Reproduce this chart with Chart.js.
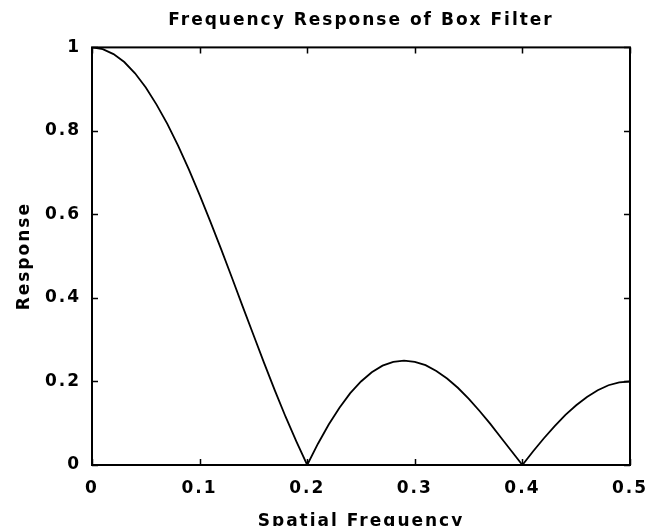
<!doctype html>
<html>
<head>
  <meta charset="utf-8" />
  <title>Frequency Response of Box Filter</title>
  <script src="https://cdn.jsdelivr.net/npm/chart.js"></script>
  <style>
    html, body { margin: 0; padding: 0; background: #fff; }
    #wrap { width: 650px; height: 526px; }
  </style>
</head>
<body>
  <div id="wrap"><canvas id="chart" width="650" height="526"></canvas></div>
  <script>
    // values, step 0.01 in spatial frequency
    const frequency = [
      0.00, 0.01, 0.02, 0.03, 0.04, 0.05, 0.06, 0.07, 0.08, 0.09,
      0.10, 0.11, 0.12, 0.13, 0.14, 0.15, 0.16, 0.17, 0.18, 0.19,
      0.20, 0.21, 0.22, 0.23, 0.24, 0.25, 0.26, 0.27, 0.28, 0.29,
      0.30, 0.31, 0.32, 0.33, 0.34, 0.35, 0.36, 0.37, 0.38, 0.39,
      0.40, 0.41, 0.42, 0.43, 0.44, 0.45, 0.46, 0.47, 0.48, 0.49, 0.50,
    ];
    const response = [
      1.000, 0.996, 0.984, 0.965, 0.938, 0.904, 0.863, 0.817, 0.765, 0.708,
      0.647, 0.583, 0.517, 0.449, 0.380, 0.312, 0.244, 0.178, 0.115, 0.056,
      0.000, 0.051, 0.097, 0.137, 0.172, 0.200, 0.222, 0.238, 0.247, 0.250,
      0.247, 0.239, 0.225, 0.207, 0.185, 0.159, 0.130, 0.099, 0.066, 0.033,
      0.000, 0.033, 0.064, 0.093, 0.120, 0.143, 0.163, 0.179, 0.191, 0.198, 0.200,
    ];
    const xTicks = [0, 0.1, 0.2, 0.3, 0.4, 0.5];
    const yTicks = [0, 0.2, 0.4, 0.6, 0.8, 1];

    const textFont = { family: '"DejaVu Sans", Arial, sans-serif', size: 17, weight: 'bold' };

    // wide, spaced-out lettering like the original bitmap font
    const spacedText = {
      id: 'spacedText',
      beforeDraw(chart) {
        chart.ctx.letterSpacing = '2px';
      },
    };

    // box frame with inward tick marks on all four sides
    const boxFrame = {
      id: 'boxFrame',
      afterDraw(chart) {
        const { ctx, chartArea: a, scales } = chart;
        const len = 6;
        ctx.save();
        ctx.strokeStyle = '#000';
        ctx.lineWidth = 2;
        ctx.strokeRect(a.left, a.top, a.right - a.left, a.bottom - a.top);
        ctx.lineWidth = 1.5;
        ctx.beginPath();
        xTicks.forEach((v) => {
          const x = Math.round(scales.x.getPixelForValue(v)) + 0.5;
          ctx.moveTo(x, a.bottom); ctx.lineTo(x, a.bottom - len);
          ctx.moveTo(x, a.top); ctx.lineTo(x, a.top + len);
        });
        yTicks.forEach((v) => {
          const y = Math.round(scales.y.getPixelForValue(v)) + 0.5;
          ctx.moveTo(a.left, y); ctx.lineTo(a.left + len, y);
          ctx.moveTo(a.right, y); ctx.lineTo(a.right - len, y);
        });
        ctx.stroke();
        ctx.restore();
      },
    };

    new Chart(document.getElementById('chart'), {
      type: 'line',
      plugins: [spacedText, boxFrame],
      data: {
        datasets: [{
          data: frequency.map((f, i) => ({ x: f, y: response[i] })),
          borderColor: '#000',
          borderWidth: 1.8,
          pointRadius: 0,
          tension: 0,
          fill: false,
        }],
      },
      options: {
        responsive: false,
        animation: false,
        layout: { padding: { left: 0, right: 20, top: 0, bottom: 0 } },
        plugins: {
          legend: { display: false },
          tooltip: { enabled: false },
          title: {
            display: true,
            fullSize: false,
            text: 'Frequency Response of Box Filter',
            color: '#000',
            font: textFont,
            padding: { top: 10, bottom: 17 },
          },
        },
        scales: {
          x: {
            type: 'linear',
            min: 0,
            max: 0.5,
            afterBuildTicks(scale) { scale.ticks = xTicks.map((v) => ({ value: v })); },
            afterFit(scale) {
              scale.height = 61;
              scale.paddingLeft = 0;
              scale.paddingRight = 0;
            },
            grid: { display: false, drawTicks: false },
            border: { display: false },
            ticks: {
              color: '#000',
              font: textFont,
              padding: 13,
              maxRotation: 0,
              callback: (v) => String(v),
            },
            title: {
              display: true,
              text: 'Spatial Frequency',
              color: '#000',
              font: textFont,
              padding: { top: 0, bottom: -6 },
            },
          },
          y: {
            type: 'linear',
            min: 0,
            max: 1,
            afterBuildTicks(scale) { scale.ticks = yTicks.map((v) => ({ value: v })); },
            afterFit(scale) {
              scale.width = 92;
              scale.paddingTop = 0;
              scale.paddingBottom = 0;
            },
            grid: { display: false, drawTicks: false },
            border: { display: false },
            ticks: {
              color: '#000',
              font: textFont,
              padding: 11,
              callback: (v) => String(v),
            },
            title: {
              display: true,
              text: 'Response',
              color: '#000',
              font: textFont,
              padding: { top: 14, bottom: 0 },
            },
          },
        },
      },
    });
  </script>
</body>
</html>
